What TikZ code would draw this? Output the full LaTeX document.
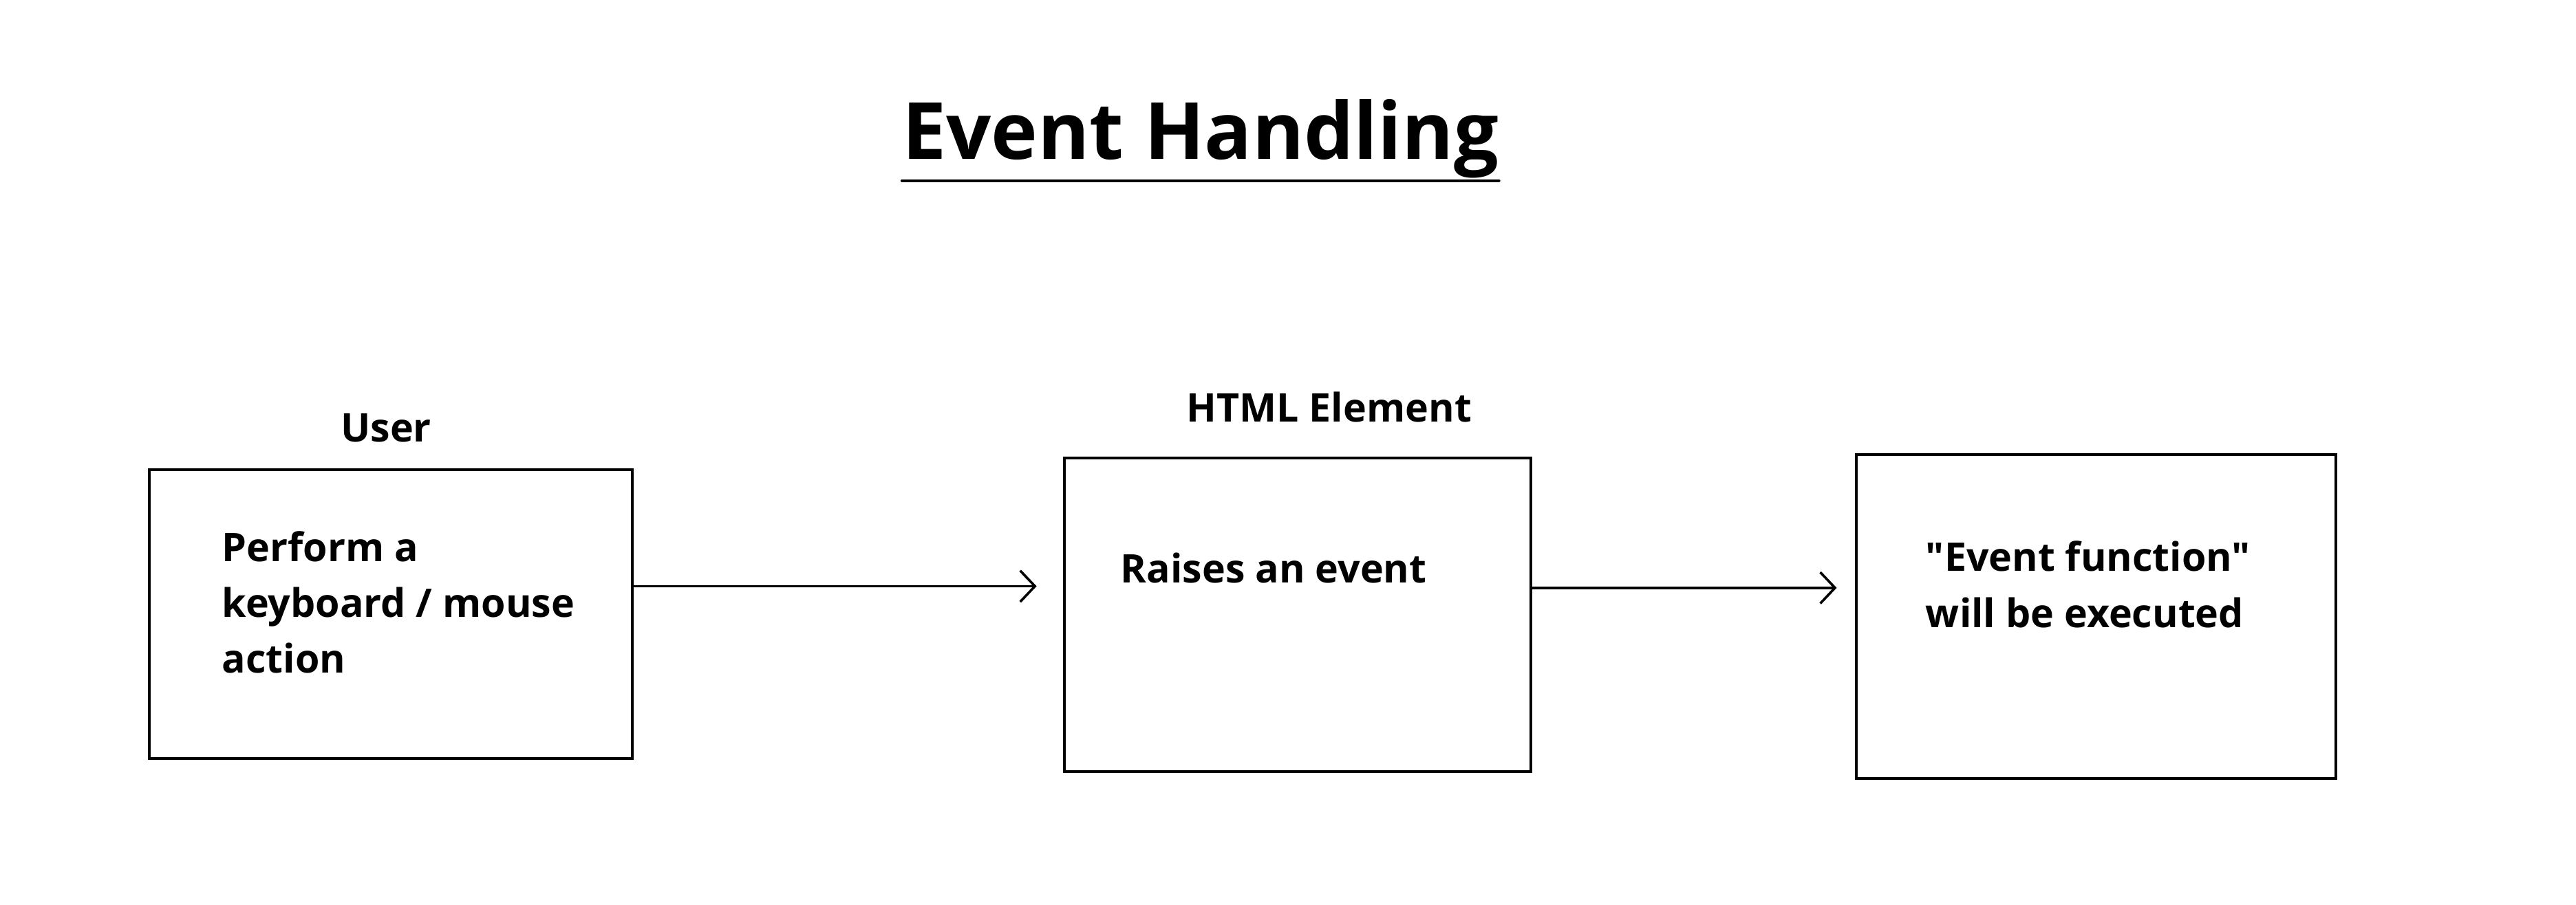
\documentclass[tikz,border=0pt]{standalone}
\usepackage{fontspec}
\setmainfont{Open Sans}[Ligatures=TeXOff]
\usetikzlibrary{arrows.meta}
\begin{document}
\begin{tikzpicture}[x=1pt,y=-1pt,
  box/.style={draw,line width=1.7pt,minimum width=#1,inner sep=0pt},
  lbl/.style={font=\fontsize{24}{34}\selectfont\bfseries,inner sep=0pt,anchor=base west,align=left},
  arr/.style={line width=1.5pt,line cap=round,-{Straight Barb[length=9pt,width=19pt,line width=1.5pt]}}]
\useasboundingbox (0,0) rectangle (1568,551);
% title
\node[font=\fontsize{48}{58}\selectfont\bfseries,inner sep=0pt,anchor=base west] (title) at (549,97) {Event Handling};
\draw[line width=1.7pt,line cap=round] ([yshift=-13pt]title.base west) -- ([yshift=-13pt]title.base east);
% boxes
\node[box=294pt,minimum height=176pt] (box1) at (238,374) {};
\node[box=284pt,minimum height=191pt] (box2) at (790,374.5) {};
\node[box=292pt,minimum height=197pt] (box3) at (1276,375.5) {};
% headings
\node[lbl,anchor=base] (user) at (235,269) {User};
\node[lbl,anchor=base] (html) at (809,257) {HTML Element};
% box texts (base anchor = last line)
\node[lbl] (t1) at (135,410) {Perform a\\keyboard / mouse\\action};
\node[lbl] (t2) at (682,355) {Raises an event};
\node[lbl] (t3) at (1172,382) {"Event function"\\will be executed};
% arrows
\coordinate (e1) at (631,357);
\coordinate (e2) at (1118,358);
\draw[arr] ([yshift=17pt]box1.east) -- (e1);
\draw[arr] ([yshift=16.5pt]box2.east) -- (e2);
\end{tikzpicture}
\end{document}
